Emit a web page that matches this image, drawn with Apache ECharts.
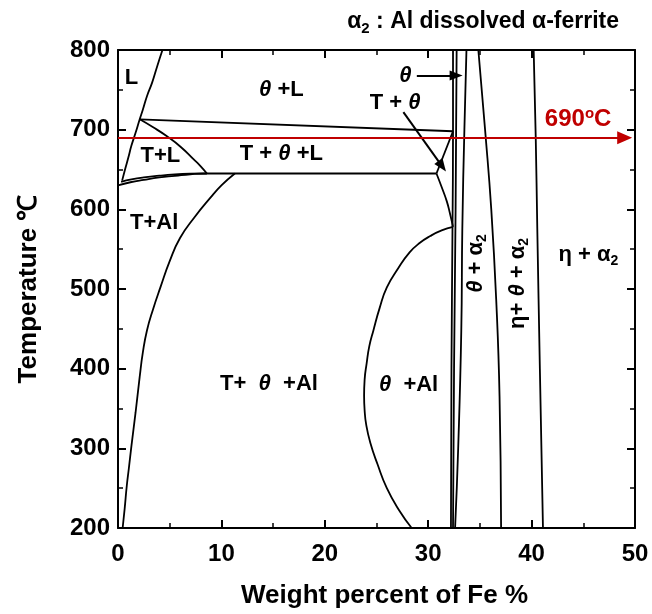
<!DOCTYPE html>
<html><head><meta charset="utf-8">
<script src="https://cdn.jsdelivr.net/npm/echarts@6/dist/echarts.min.js"></script>
<style>html,body{margin:0;padding:0;background:#fff}#c{width:652px;height:614px}</style>
</head><body><div id="c"></div>
<script>
// ---- data (wt% Fe, temperature °C) ----
const xTickValues = [0, 10, 20, 30, 40, 50];
const yTickValues = [200, 300, 400, 500, 600, 700, 800];
const liquidus = [[4.3,800],[3.8,780],[3.3,759],[2.8,742],[2.4,725],[2.1,713],[1.7,696],[1.3,680],[1.0,665],[0.7,651],[0.4,636]];
const peritecticLine = [[2.1,713],[32.4,698]];
const tlBoundary = [[2.1,713],[3.4,703],[4.7,692],[6.1,678],[7.3,663],[8.0,654],[8.6,645]];
const eutecticLower = [[0,630],[1.2,634],[2.5,637],[4.0,640],[5.5,642],[7.0,644],[8.6,645],[30.8,645]];
const eutecticUpper = [[0.3,634.5],[1.3,637.5],[2.5,640],[4.0,642.2],[5.5,643.8],[7.0,644.7],[8.6,645]];
const tAlBoundary = [[11.3,645],[10.0,630],[8.9,614],[7.4,590],[6.0,564],[5.0,535],[4.1,502],[3.4,475],[2.8,448],[2.4,420],[2.1,390],[1.7,345],[1.3,303],[1.05,275],[0.85,253],[0.65,225],[0.45,200]];
const tThetaUpper = [[30.8,645],[32.4,698]];
const tThetaLower = [[30.8,645],[31.3,628],[31.8,610],[32.1,595],[32.4,578]];
const thetaAlBoundary = [[32.4,578],[31.3,573.5],[30.2,566.5],[29.2,558],[28.2,546],[27.1,526],[26.0,502],[25.3,476],[24.7,448],[24.3,428],[24.05,407],[23.85,386],[23.8,366],[23.85,348],[24.0,330],[24.4,307],[25.1,280],[26.0,250],[27.2,222],[28.4,200]];
const thetaLeft = [[32.4,800],[32.4,698],[32.35,578],[32.25,400],[32.2,200]];
const thetaRight = [[32.75,800],[32.65,600],[32.5,400],[32.4,200]];
const alpha2Left = [[33.7,800],[33.5,700],[33.3,576],[33.2,448],[32.9,300],[32.6,200]];
const etaThetaLeft = [[34.85,800],[35.5,700],[36.1,600],[36.6,480],[36.9,365],[37.05,200]];
const etaAlphaLeft = [[40.2,800],[40.4,690],[40.55,576],[40.8,400],[41.1,200]];
const isothermTemp = 690;
const isothermLabel = '690';

const FONT = '"Liberation Sans", Arial, sans-serif';
const chart = echarts.init(document.getElementById('c'));

function curve(data, smooth) {
  return { type: 'line', data: data, smooth: smooth ? 0.5 : false, symbol: 'none', silent: true,
    lineStyle: { color: '#000', width: 1.8 }, z: 3 };
}
const base = { fontWeight: 'bold', fontFamily: FONT, color: '#000', textBorderWidth: 0, textBorderColor: 'transparent', opacity: 1 };
const rich = {
  n: Object.assign({ fontSize: 22, lineHeight: 26 }, base),
  i: Object.assign({ fontSize: 22, fontStyle: 'italic', lineHeight: 26 }, base),
  s: Object.assign({ fontSize: 14, padding: [12, 0, 0, 0], lineHeight: 26 }, base),
  r: Object.assign({ fontSize: 24, lineHeight: 28 }, base, { color: '#c00000' }),
  ro: Object.assign({ fontSize: 15, padding: [0, 0, 10, 0], lineHeight: 28 }, base, { color: '#c00000' })
};
function lab(x, y, fmt, rot) {
  return { value: [x, y], label: { formatter: fmt, rotate: rot || 0 } };
}
const labels = [
  lab(1.3, 765, '{n|L}'),
  lab(15.8, 750, '{i|θ}{n| +L}'),
  lab(4.1, 667, '{n|T+L}'),
  lab(15.8, 670, '{n|T + }{i|θ}{n| +L}'),
  lab(3.5, 583, '{n|T+Al}'),
  lab(14.6, 381, '{n|T+  }{i|θ}{n|  +Al}'),
  lab(28.1, 380, '{i|θ}{n|  +Al}'),
  lab(34.6, 532, '{i|θ}{n| + α}{s|2}', 90),
  lab(38.7, 507, '{n|η+ }{i|θ}{n| + α}{s|2}', 90),
  lab(45.5, 543, '{n|η + α}{s|2}'),
  lab(27.8, 768, '{i|θ}'),
  lab(26.8, 733, '{n|T + }{i|θ}'),
  lab(44.5, 713, '{r|' + isothermLabel + '}{ro|o}{r|C}')
];

const axisCommon = {
  type: 'value',
  axisLine: { show: true, onZero: false, lineStyle: { color: '#000', width: 2 } },
  axisTick: { show: true, inside: true, length: 8, lineStyle: { color: '#000', width: 2 } },
  minorTick: { show: true, splitNumber: 2, length: 5, lineStyle: { color: '#000', width: 1.5 } },
  splitLine: { show: false },
  minorSplitLine: { show: false }
};
const tickLabel = { fontSize: 24, fontWeight: 'bold', fontFamily: FONT, color: '#000' };
const nameStyle = { fontSize: 26, fontWeight: 'bold', fontFamily: FONT, color: '#000' };

const option = {
  animation: false,
  backgroundColor: '#fff',
  title: {
    text: '{n|α}{s|2}{n| : Al dissolved α-ferrite}',
    right: 28, top: 2,
    textStyle: { rich: {
      n: Object.assign({ fontSize: 23, lineHeight: 30 }, base),
      s: Object.assign({ fontSize: 15, padding: [13, 0, 0, 0], lineHeight: 30 }, base)
    } }
  },
  grid: { left: 118, right: 17, top: 50, bottom: 81, containLabel: false },
  xAxis: [
    Object.assign({}, axisCommon, { min: xTickValues[0], max: xTickValues[xTickValues.length - 1], interval: 10, position: 'bottom',
      axisLabel: Object.assign({ margin: 14 }, tickLabel),
      name: 'Weight percent of Fe %', nameLocation: 'middle', nameGap: 55,
      nameTextStyle: Object.assign({ padding: [0, 0, 0, 16] }, nameStyle) }),
    Object.assign({}, axisCommon, { min: xTickValues[0], max: xTickValues[xTickValues.length - 1], interval: 10, position: 'top',
      axisLabel: { show: false } })
  ],
  yAxis: [
    Object.assign({}, axisCommon, { min: yTickValues[0], max: yTickValues[yTickValues.length - 1], interval: 100, position: 'left',
      axisLabel: Object.assign({ margin: 8 }, tickLabel),
      name: 'Temperature ℃', nameLocation: 'middle', nameGap: 76, nameRotate: 90, nameTextStyle: nameStyle }),
    Object.assign({}, axisCommon, { min: yTickValues[0], max: yTickValues[yTickValues.length - 1], interval: 100, position: 'right',
      axisLabel: { show: false } })
  ],
  series: [
    curve(liquidus, true),
    curve(peritecticLine, false),
    curve(tlBoundary, true),
    curve(eutecticLower, true),
    curve(eutecticUpper, true),
    curve(tAlBoundary, true),
    curve(tThetaUpper, false),
    curve(tThetaLower, true),
    curve(thetaAlBoundary, true),
    curve(thetaLeft, true),
    curve(thetaRight, true),
    curve(alpha2Left, true),
    curve(etaThetaLeft, true),
    curve(etaAlphaLeft, true),
    {
      type: 'line', data: [], symbol: 'none', silent: true, z: 4,
      markLine: {
        silent: true, animation: false, label: { show: false },
        symbol: ['none', 'triangle'], symbolSize: [10, 13],
        lineStyle: { color: '#000', width: 2, type: 'solid', opacity: 1 },
        data: [
          [{ coord: [28.9, 768] }, { coord: [32.7, 768] }],
          [{ coord: [27.6, 722] }, { coord: [31.35, 654] }]
        ]
      }
    },
    {
      type: 'line', data: [], symbol: 'none', silent: true, z: 5,
      markLine: {
        silent: true, animation: false, label: { show: false },
        symbol: ['none', 'triangle'], symbolSize: [13, 15],
        lineStyle: { color: '#c00000', width: 2, type: 'solid', opacity: 1 },
        data: [[{ coord: [0, isothermTemp] }, { coord: [49.0, isothermTemp] }]]
      }
    },
    {
      type: 'scatter', data: labels, symbolSize: 0, silent: true, z: 6,
      itemStyle: { color: '#000', opacity: 1 },
      label: { show: true, position: 'inside', color: '#000', opacity: 1, textBorderWidth: 0, rich: rich }
    }
  ]
};
chart.setOption(option);
</script>
</body></html>
